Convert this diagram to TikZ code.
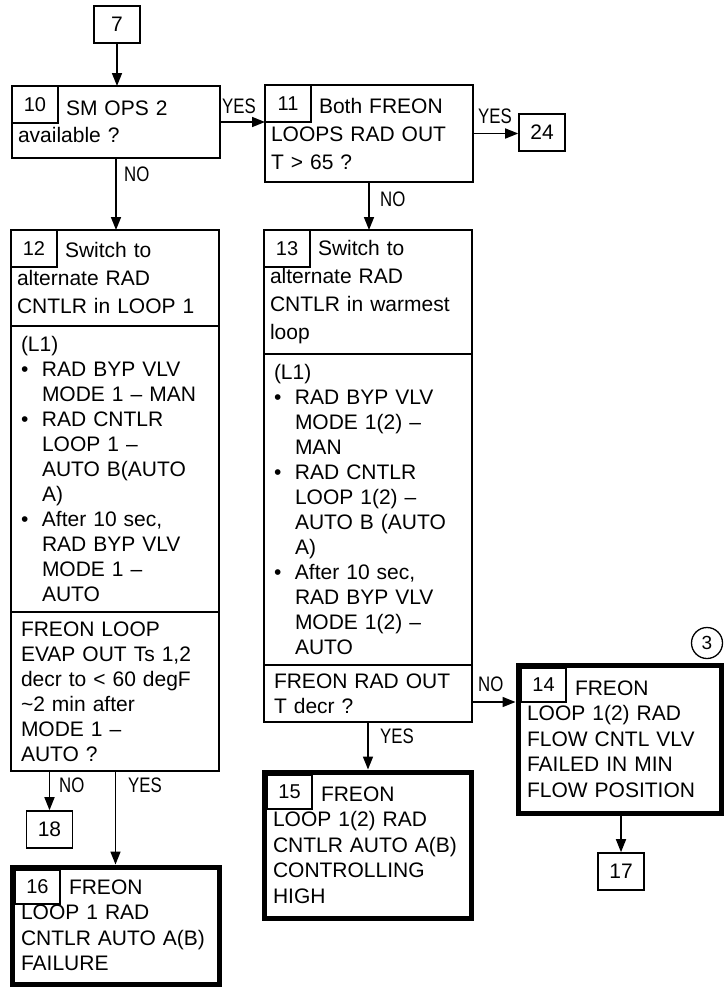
\documentclass[tikz,border=0pt]{standalone}
\usepackage{fontspec}
\setmainfont{Liberation Sans}
\newfontfamily\tagfont[FakeStretch=0.8]{Liberation Sans}
\usetikzlibrary{arrows.meta,positioning}
\newcommand{\bx}{\makebox[21pt][l]{\textbullet}}
\newcommand{\bc}{\hspace*{21pt}}
\newcommand{\nx}{\hspace*{48pt}}
\tikzset{
  flow/.style={-{Triangle[length=13pt,width=10pt]},line width=1.6pt},
  connbox/.style={draw,line width=1.6pt,minimum width=46pt,minimum height=37pt,
    inner sep=0pt,font=\fontsize{21}{21}\selectfont},
  stepbox/.style={draw,line width=1.6pt,anchor=north west,align=left,outer sep=0pt,
    inner xsep=6pt,inner ysep=0pt,text width=196pt,font=\fontsize{21}{25}\selectfont},
  headbox/.style={stepbox,font=\fontsize{21}{28}\selectfont},
  listbox/.style={stepbox,inner xsep=10pt,text width=188pt},
  endbox/.style={stepbox,line width=5pt,outer sep=2.5pt,inner xsep=9pt,text width=189pt,
    font=\fontsize{21}{25.5}\selectfont},
  numbox/.style={draw,line width=1.2pt,anchor=north west,outer sep=0pt,minimum width=46pt,
    minimum height=37pt,inner sep=0pt,font=\fontsize{20}{20}\selectfont},
  endnum/.style={numbox,minimum width=45pt,minimum height=34pt},
  tag/.style={anchor=base west,inner sep=0pt,font=\tagfont\fontsize{21}{21}\selectfont},
  markcircle/.style={draw,circle,line width=1.3pt,minimum size=31pt,inner sep=0pt,
    font=\fontsize{19}{19}\selectfont}
}
\begin{document}
\begin{tikzpicture}[x=1pt,y=-1pt]
  \useasboundingbox (0,0) rectangle (723,988);

  \node[connbox] (n7) at (117,24.5) {7};
  \node[headbox,minimum height=72pt,font=\fontsize{21}{27}\selectfont] (b10) at (12,86) {\nx SM OPS 2\\available ?};
  \node[numbox] (t10) at (b10.north west) {10};
  \node[headbox,minimum height=97pt] (b11) at (265,85) {\nx Both FREON\\LOOPS RAD OUT\\T > 65 ?};
  \node[numbox] (t11) at (b11.north west) {11};
  \node[connbox] (n24) at (542,132.5) {24};

  \node[headbox,minimum height=96pt] (h12) at (11,230) {\nx Switch to\\alternate RAD\\CNTLR in LOOP 1};
  \node[numbox] (t12) at (h12.north west) {12};
  \node[listbox,minimum height=286pt,below=0pt of h12] (b12) {(L1)\\
    \bx RAD BYP VLV\\\bc MODE 1 -- MAN\\
    \bx RAD CNTLR\\\bc LOOP 1 --\\\bc AUTO B(AUTO\\\bc A)\\
    \bx After 10 sec,\\\bc RAD BYP VLV\\\bc MODE 1 --\\\bc AUTO};
  \node[listbox,minimum height=159pt,below=0pt of b12] (q12) {FREON LOOP\\EVAP OUT Ts 1,2\\decr to < 60 degF\\\textasciitilde2 min after\\MODE 1 --\\AUTO ?};

  \node[headbox,minimum height=124pt] (h13) at (264,230) {\nx Switch to\\alternate RAD\\CNTLR in warmest\\loop};
  \node[numbox] (t13) at (h13.north west) {13};
  \node[listbox,minimum height=311pt,below=0pt of h13] (b13) {(L1)\\
    \bx RAD BYP VLV\\\bc MODE 1(2) --\\\bc MAN\\
    \bx RAD CNTLR\\\bc LOOP 1(2) --\\\bc AUTO B (AUTO\\\bc A)\\
    \bx After 10 sec,\\\bc RAD BYP VLV\\\bc MODE 1(2) --\\\bc AUTO};
  \node[listbox,minimum height=57pt,below=0pt of b13] (q13) {FREON RAD OUT\\T decr ?};

  \node[endbox,minimum height=148pt,text width=185pt] (b14) at (515.5,662.5) {\nx FREON\\LOOP 1(2) RAD\\FLOW CNTL VLV\\FAILED IN MIN\\FLOW POSITION};
  \node[endnum] (t14) at ([shift={(5.5,5.5)}]b14.north west) {14};
  \node[markcircle] (c3) at (707,643) {3};
  \node[connbox] (n17) at (621,871.5) {17};

  \node[endbox,minimum height=146pt] (b15) at (261.5,769.5) {\nx FREON\\LOOP 1(2) RAD\\CNTLR AUTO A(B)\\CONTROLLING\\HIGH};
  \node[endnum] (t15) at ([shift={(5.5,5.5)}]b15.north west) {15};

  \node[connbox] (n18) at (49.5,829.5) {18};
  \node[endbox,minimum height=117pt] (b16) at (9.5,864.5) {\nx FREON\\LOOP 1 RAD\\CNTLR AUTO A(B)\\FAILURE};
  \node[endnum] (t16) at ([shift={(5.5,5.5)}]b16.north west) {16};

  \node[tag] (yes10) at (222,113) {YES};
  \node[tag] (no10) at (124,181) {NO};
  \node[tag] (yes11) at (478,123) {YES};
  \node[tag] (no11) at (380,206) {NO};
  \node[tag] (no12) at (59,792) {NO};
  \node[tag] (yes12) at (128,792) {YES};
  \node[tag] (no13) at (478,691) {NO};
  \node[tag] (yes13) at (380,743) {YES};

  \draw[flow] (n7.south) -- (n7.south |- b10.north);
  \draw[flow] (b10.east) -- (b10.east -| b11.west);
  \draw[flow] (b11.east) -- (b11.east -| n24.west);
  \draw[flow] (b10.south) -- (b10.south |- h12.north);
  \draw[flow] (b11.south) -- (b11.south |- h13.north);
  \draw[flow] (q12.south -| n18.north) -- (n18.north);
  \draw[flow] (q12.south -| b16.north) -- (b16.north);
  \draw[flow] (q13.south) -- (q13.south |- b15.north);
  \draw[flow] (q13.east |- t14.south) -- (b14.west |- t14.south);
  \draw[flow] (b14.south -| n17.north) -- (n17.north);
\end{tikzpicture}
\end{document}
